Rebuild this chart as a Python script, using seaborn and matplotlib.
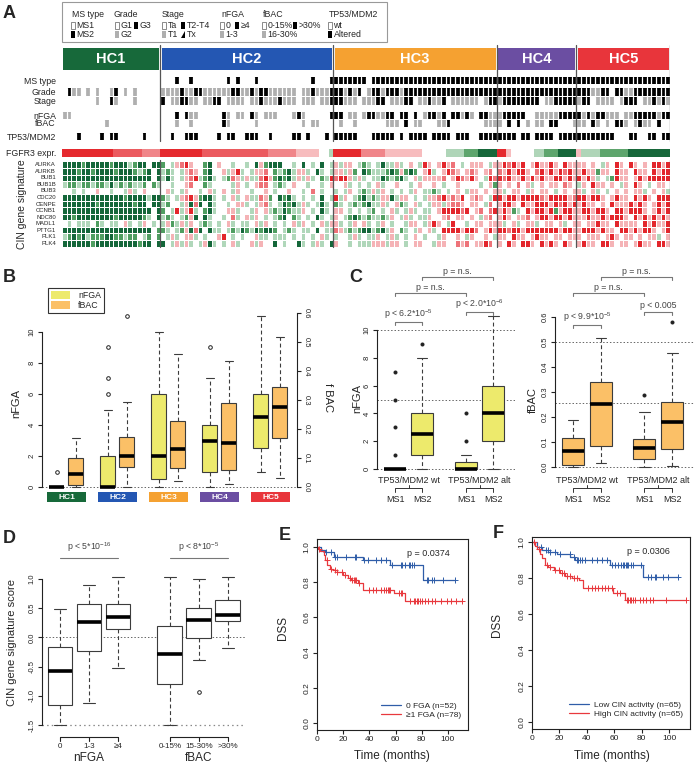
import numpy as np
import matplotlib
matplotlib.use("Agg")
import matplotlib.pyplot as plt
import matplotlib.transforms as mtransforms
from matplotlib.colors import ListedColormap
from matplotlib.patches import Rectangle, Patch, Polygon
from matplotlib.lines import Line2D
import seaborn as sns

sns.set_theme(style="ticks")
plt.rcParams["font.family"] = ["Liberation Sans", "DejaVu Sans"]
plt.rcParams.update({
    "axes.unicode_minus": False,
    "mathtext.fontset": "custom",
    "mathtext.rm": "Liberation Sans",
    "mathtext.it": "Liberation Sans:italic",
    "mathtext.bf": "Liberation Sans:bold",
    "mathtext.default": "regular",
    "axes.linewidth": 0.8,
    "axes.edgecolor": "#222222",
    "xtick.color": "#222222", "ytick.color": "#222222",
    "xtick.major.size": 3, "ytick.major.size": 3,
    "xtick.major.width": 0.8, "ytick.major.width": 0.8,
    "xtick.major.pad": 1.5, "ytick.major.pad": 1.5,
    "xtick.labelsize": 6, "ytick.labelsize": 6,
})

# =================== DATA ===================
# ---- Panel A ----
clusters = ["HC1", "HC2", "HC3", "HC4", "HC5"]
cluster_sizes = [21, 37, 35, 17, 20]
cluster_colors = ["#17693A", "#2457B3", "#F5A131", "#6B4EA2", "#E8353B"]

# clinical tracks: 0 = white, 1 = grey, 2 = black
ms_type = ("0000000000" "00000000000"
           "0002002000" "0000202000" "2000000000" "0020002"
           "2222222" "0" "2222222222" "2222222222" "2222222"
           "2222222222" "2222222"
           "2222222222" "2222222222")
grade = ("0211010100" "12010100000"
         "1111211221" "1111122112" "1221111110" "1121112"
         "2212120122" "1222122222" "2222222222" "22222"
         "2222222222" "2222222"
         "2221122022" "1122222222")
stage = ("0000000100" "21000100000"
         "2011221101" "1220111101" "1211121110" "1110112"
         "2211101112" "2011122011" "2112011111" "10122"
         "1222222220" "1122222"
         "1220111101" "2220112121")
nfga_cat = ("1100000000" "00000000000"
            "0002021100" "0002101102" "1011100012" "1000002"
            "2201101221" "1220220201" "2212022121" "02211"
            "1222220011" "1112222"
            "2121221110" "1122222122")
fbac_cat = ("0000000001" "00000000000"
            "0001001000" "0002100000" "1000000000" "1011000"
            "0100100000" "0111020110" "0011200000" "00111"
            "1020201011" "0220001"
            "1102101022" "1012110200")
tp53_mdm2 = ("0002000020" "22000002000"
             "0020022200" "0020220022" "2002000022" "0200020"
             "2222200022" "2220202222" "0222202220" "02222"
             "2222022022" "2202222"
             "2222222200" "0220022022")
# FGFR3 expression levels: R>r>m>p (red), . none, l<g<G (green)
fgfr3_expr = ("RRRRRRRRRRR" "rrrrrr" "mmmm"
              "RRRRRRRRR" "rrrrrrrrrrrrrr" "mmmmmm" "ppppp" ".." "l"
              "RRRRRR" "mmmmm" "pppppppp" "....." "llll" "ggg" "GGGG"
              "RR" "p" "....." "ll" "ggg" "GGGG"
              "p" "llll" "gggggg" "GGGGGGGGG")

cin_genes = ["AURKA", "AURKB", "BUB1", "BUB1B", "BUB3", "CDC20", "CENPE",
             "CCNB1", "NDC80", "MADL1", "PTTG1", "PLK1", "PLK4"]
cin_signature = [
    "GGGGgGGGGG" "gGGGlgGG.GG" "g.lprRp..g" "G.p..l..l." "GpgGGG..l." "G.l.G.l"
    "plpp.lgl.l" "Gllpl.p.lR" "p.pRpr.l.p" "pp.lp" "pRrRpR.pRp" "pRp.Rpp" "pp.p.lp.Rp" ".Rp.p.RRpR",
    "GGGgGGgGGG" "GgGGGglgG.G" "lgl.lprp.g" "G..plpRl.l" "ppr.glgGlp" "pl.Gl.l"
    "pplpg.Ggll" "lgGgpgGg.p" "Rl.pRrp.pr" "p.pr." "rpRpRRp.rR" "pRpRrRp" "pRppgpp.Rp" "p.Rpp.RpRR",
    "GGGGGGGGGG" "GGGGGGGGG.G" "lGl.lprRlg" "Gl.lgrplpl" "lrRpgGgGlp" "lpl.glR"
    "rRRplpl.ll" "GglgGl.plp" "pppr.pRrpR" "p.lRr" "RrRppRpRpR" "ppRRpRp" "RpRpl.lgRp" "p.pRpRRRRR",
    "lgglgglggl" "Glglgllg.gl" "..l..pr..g" "l....lp.l." "prr.lgl.p." ".l..l.p"
    "..pl.l.l.p" "l..p..l.p." ".p.l..p..." ".l.pg" "p.p.r.pl.p" ".pp.rp." "lp.Rpp.p.l" "p.Rp.l.pp.",
    "..l.l..p.." "l..lpl.p..." ".pl.lp..l." "pl.p.lp..l" "..p.l..p.." "l.r.l.."
    "l.lp.lglpl" "p.l.l.lp.l" "lgl.l.p.lp" "p.p.p" "pl.pp.lp.p" "p.l.p.p" "pl.pl.l.p." "p.ppl.p.pl",
    "GGGGGGGGGG" "GGGgGGGGlGG" "gl.lprRpgG" "Gl.l.pl.pl" "lrpg.GgGl." "l.l.G.l"
    "Rlp.lgGlgl" "ppGlpp.l.l" "pprRprpR.p" "rp.lR" "RpRRpRRRRr" "pRRRRpr" "RRpRRp.pRp" "p.RpRp.RRR",
    "GGGGGGGgGG" "GGGGGgGG.GG" "lg..lpGrG." "Gl..l.ppl." "lprl.lGgGl" "pl.lGl."
    "gl.lglgGll" "pl.pgl.pl." "lpplprrp.p" "p.lr." "pRRp.RppRR" "RpRrRpR" "pRpp.p.Rpp" "pRpRp.pRpR",
    "GGGGGGGGGG" "GGGGGGGGG.G" "g.lRlpRl.g" "Gl..ppl..l" "p.plglGgll" "p.l.Gl."
    "pp.l.l.lg." "l.pl.lpl.l" "l.pRRRRrR." "pr.rR" "pRpgl.RpRR" "pRgpRRp" "pRRpRRp.RR" "pRRRp.pRpR",
    "GGgGGGGGGG" "GgGGGGGgl.G" "lgl.lgpG.G" "l..l.rl.pl" "p.l.lgG.gl" ".l.Gl.l"
    "p.lgGglgll" "glp.lpl.ll" "p..pr.pp.p" ".lpr." "pRp.ppr.pR" "RpRRpRp" "ppRppRpRRR" "p.RpRpRpRp",
    ".l.lll.gl." "ll.pl.lp.l." "lpglplp.lg" "l.l.pl.ll." "plp.l.l.pl" "p.l.plp"
    "pl.lp.pl.l" "p.l..lpp.l" "pRp.lR..l." "pp.pp" "pl.pl.ppl." "pp.pl.p" "p.ppRpp.Rp" "ppp.RpRppR",
    "GGGGGGGGGG" "GGGGGGGGG.g" "gl.lgpGrG." "Gll.lglGgl" "GgGGg.lgl." "ll.G.ll"
    "rplglgGGlg" "Glp.gl.lp." "pl.RRRRpRR" "r.pRp" "RRrRRpRRRR" "RRRpRRp" "pRRRpRpp.R" "RpRpRRp.pR",
    "lgGgGlgggG" "Ggglgg.lg.g" ".lpl.ppl.l" "..pR.l.l.." "pll.lll.l." "l.l.pl."
    "l..lpl.llp" ".lpl.l.p.l" "..lp..p.lp" "..p.l" "pp.Rpp.pRp" "p.pp.pp" "p.ppp.pRp." "pp.p.ppl.p",
    "GGGGGGgGGG" "GGGGGGgGG.G" "G.lplpl.lp" "Gl.l.pl..p" "lp..G.l..G" "l.lpl.G"
    "p..l.lllpp" "plpp.l.pp." ".lpp..rpr." "ppRr." "p.Rp.RRp.R" "pRp.Rp." "pRpp.RRp.p" "p.pRpp.RRp",
]

# ---- Panel B (box statistics per cluster) ----
b_groups = ["HC1", "HC2", "HC3", "HC4", "HC5"]
b_nfga_q1 = [0, 0, 0.5, 1, 2.5]
b_nfga_med = [0, 0, 2, 3, 4.5]
b_nfga_q3 = [0, 2, 6, 4, 6]
b_nfga_lo = [0, 0, 0, 0, 1]
b_nfga_hi = [0, 5, 10, 7, 11]
b_nfga_out = [[1], [6, 7, 9], [], [9], []]
b_fbac_q1 = [0.007, 0.069, 0.066, 0.059, 0.169]
b_fbac_med = [0.045, 0.107, 0.131, 0.152, 0.276]
b_fbac_q3 = [0.10, 0.172, 0.228, 0.29, 0.345]
b_fbac_lo = [0.0, 0.0, 0.02, 0.01, 0.031]
b_fbac_hi = [0.17, 0.293, 0.459, 0.434, 0.517]
b_fbac_out = [[], [0.59], [], [], []]

# ---- Panel C ----
c_groups = ["MS1", "MS2", "MS1", "MS2"]
c_tp53 = ["TP53/MDM2 wt", "TP53/MDM2 alt"]
c_nfga_q1 = [0, 1, 0, 2]
c_nfga_med = [0, 2.5, 0, 4]
c_nfga_q3 = [0, 4, 0.5, 6]
c_nfga_lo = [0, 0, 0, 0]
c_nfga_hi = [0, 8, 1, 11]
c_nfga_out = [[1, 3, 5, 7], [9], [2, 4], []]
c_fbac_q1 = [0.01, 0.083, 0.033, 0.072]
c_fbac_med = [0.066, 0.254, 0.075, 0.182]
c_fbac_q3 = [0.115, 0.34, 0.112, 0.26]
c_fbac_lo = [0.0, 0.017, 0.002, 0.005]
c_fbac_hi = [0.187, 0.515, 0.22, 0.455]
c_fbac_out = [[], [], [0.29], [0.58]]

# ---- Panel D ----
d_labels = ["0", "1-3", "\u22654", "0-15%", "15-30%", ">30%"]
d_q1 = [-1.15, -0.24, 0.14, -0.80, -0.01, 0.28]
d_med = [-0.58, 0.26, 0.35, -0.29, 0.30, 0.39]
d_q3 = [-0.17, 0.58, 0.58, 0.19, 0.51, 0.64]
d_lo = [-1.5, -1.12, -0.53, -1.5, -0.39, -0.19]
d_hi = [0.48, 0.90, 1.03, 1.03, 1.00, 1.03]
d_out = [[], [], [], [], [-0.93], []]

# ---- Panel E (Kaplan-Meier) ----
e0_times = [0, 3, 6, 13, 35, 56, 81]
e0_surv = [1.0, 0.985, 0.97, 0.945, 0.925, 0.895, 0.81]
e0_end = 105
e0_cens = [7, 11, 14, 15, 22.5, 29, 30, 36, 39, 45, 49, 52.5, 57.5, 64, 65, 67.5,
           70, 71, 72.5, 74, 84, 85, 87.5, 89, 96, 105]
e1_times = [0, 0.5, 2.5, 5, 6.3, 8, 10, 12.5, 15, 20, 24, 26, 31, 35, 59, 67.5]
e1_surv = [1.0, 0.99, 0.977, 0.952, 0.924, 0.895, 0.876, 0.867, 0.857, 0.838,
           0.825, 0.81, 0.796, 0.758, 0.74, 0.695]
e1_end = 111
e1_cens = [1.2, 7.5, 11, 14, 15.5, 19, 21, 25, 27, 28, 29, 30, 32, 40, 42.5, 45, 49,
           51, 52.5, 54, 55, 56, 62.5, 64, 65, 71, 74, 75, 76, 77, 79, 80, 82.5, 85,
           87.5, 90, 95, 99, 102.5, 106, 111]
e_labels = ["0 FGA (n=52)", "\u22651 FGA (n=78)"]
e_p = "p = 0.0374"

# ---- Panel F ----
f0_times = [0, 4, 7, 12, 18, 28, 31.5, 57, 81]
f0_surv = [1.0, 0.973, 0.958, 0.945, 0.933, 0.918, 0.90, 0.873, 0.805]
f0_end = 106.5
f0_cens = [6.8, 9.9, 11.4, 13.3, 16.9, 20.6, 27.8, 30.3, 32.7, 33.9, 35.1, 36.3,
           38.7, 43.6, 47.2, 50.8, 54.5, 58.1, 60.5, 63, 64.9, 66.1, 67, 68.3, 69,
           70.2, 71.9, 73.8, 79.9, 84.7, 87.1, 89.6, 90.8, 95.6, 99.3, 106.5]
f1_times = [0, 2.4, 3.6, 6, 7.3, 9.7, 12, 16, 20.6, 24, 29, 34, 37.5, 59.3, 67.8]
f1_surv = [1.0, 0.978, 0.964, 0.936, 0.91, 0.873, 0.86, 0.845, 0.827, 0.813, 0.80,
           0.787, 0.745, 0.718, 0.676]
f1_end = 112.6
f1_cens = [1.2, 4.8, 10.9, 13.3, 16.9, 19.4, 21.8, 23.5, 25.4, 27.4, 30.3, 32.7,
           41.2, 43.6, 46, 48.4, 50.8, 53.3, 55.7, 58.1, 61.7, 64.2, 69, 70.2, 71.4,
           72.6, 73.8, 75.1, 78.7, 81.1, 83.5, 85.9, 88.4, 98.1, 112.6]
f_labels = ["Low CIN activity (n=65)", "High CIN activity (n=65)"]
f_p = "p = 0.0306"

# =================== STYLE ===================
W, H = 694, 765
YEL, ORA = "#EDEA6C", "#FBC067"
BLUE, RED = "#2F5DA8", "#E8383D"
EDGE = "#3c3c3c"

n_samples = sum(cluster_sizes)
for s in [ms_type, grade, stage, nfga_cat, fbac_cat, tp53_mdm2, fgfr3_expr] + cin_signature:
    assert len(s) == n_samples, (len(s), s[:20])

fig = plt.figure(figsize=(W / 100, H / 100), dpi=100)


def add_ax(x0, y0, x1, y1, **kw):
    return fig.add_axes([x0 / W, 1 - y1 / H, (x1 - x0) / W, (y1 - y0) / H], **kw)


ov = fig.add_axes([0, 0, 1, 1], zorder=20)
ov.set_xlim(0, W)
ov.set_ylim(H, 0)
ov.axis("off")
ov.patch.set_alpha(0)

for letter, (lx, ly) in zip("ABCDEF", [(3, 18), (3, 282), (349, 282), (3, 543), (279, 540), (493, 538)]):
    ov.text(lx, ly, letter, fontsize=13, fontweight="bold", ha="left", va="baseline")

# =================== PANEL A ===================
ov.add_patch(Rectangle((62, 2), 325, 40, fc="white", ec="#999999", lw=0.8))
leg_fs = 6.3
for txt, x in [("MS type", 72), ("Grade", 114), ("Stage", 162), ("nFGA", 221), ("fBAC", 263), ("TP53/MDM2", 329)]:
    ov.text(x, 14, txt, fontsize=leg_fs, ha="left", va="center")
legend_items = [
    (73, 25, "w", "MS1"), (117, 25, "w", "G1"), (136, 25, "k", "G3"),
    (164, 25, "w", "Ta"), (183, 25, "k", "T2-T4"), (222, 25, "w", "0"),
    (237, 25, "k", "\u22654"), (264, 25, "w", "0-15%"), (295, 25, "k", ">30%"),
    (330, 25, "w", "wt"),
    (73, 34, "k", "MS2"), (117, 34, "g", "G2"), (164, 34, "g", "T1"),
    (183, 34, "t", "Tx"), (222, 34, "g", "1-3"), (264, 34, "g", "16-30%"),
    (330, 34, "k", "Altered"),
]
for x, y, kind, txt in legend_items:
    if kind == "t":
        ov.add_patch(Polygon([(x - 1.5, y + 3.5), (x + 2, y + 3.5), (x + 2, y - 3.5)], closed=True, fc="black", ec="none"))
    else:
        fc = {"w": "white", "g": "#AFAFAF", "k": "black"}[kind]
        ec = "#777777" if kind == "w" else "none"
        ov.add_patch(Rectangle((x - 1.5, y - 3.5), 3.2, 7, fc=fc, ec=ec, lw=0.6))
    ov.text(x + 3.5, y, txt, fontsize=leg_fs, ha="left", va="center")

x0A, x1A = 62, 670
clin_cmap = ListedColormap(["white", "#AFAFAF", "black"])
track_rows = [("MS type", ms_type, 77, 84), ("Grade", grade, 88, 96), ("Stage", stage, 96.5, 104.5),
              ("nFGA", nfga_cat, 112, 119), ("fBAC", fbac_cat, 119.5, 126.5), ("TP53/MDM2", tp53_mdm2, 133, 140)]
for name, s, ya, yb in track_rows:
    ax = add_ax(x0A, ya, x1A, yb)
    arr = np.array([[int(c) for c in s]])
    sns.heatmap(arr, cmap=clin_cmap, vmin=-0.5, vmax=2.5, cbar=False, linewidths=0.0,
                xticklabels=False, yticklabels=False, ax=ax)
    # white separators between the sample columns
    for k in range(n_samples + 1):
        ax.axvline(k, color="white", lw=0.9)
    ov.text(56, (ya + yb) / 2 + 0.5, name, fontsize=6.3, ha="right", va="center")

fg_code = {"R": 4, "r": 3, "m": 2, "p": 1, ".": 0, "l": -1, "g": -2, "G": -3}
fg_cmap = ListedColormap(["#17673A", "#5EA56D", "#AFD5B8", "white", "#F7BCBE", "#F08589", "#EB5A5F", "#E5292E"])
axF3 = add_ax(x0A, 149, x1A, 157)
sns.heatmap(np.array([[fg_code[c] for c in fgfr3_expr]]), cmap=fg_cmap, vmin=-3.5, vmax=4.5,
            cbar=False, xticklabels=False, yticklabels=False, ax=axF3)
ov.text(56, 153, "FGFR3 expr.", fontsize=6.3, ha="right", va="center")

cin_code = {"G": -3, "g": -2, "l": -1, ".": 0, "p": 1, "r": 2, "R": 3}
cin_cmap = ListedColormap(["#14673A", "#4F9E61", "#B0D7BA", "white", "#F5B3B6", "#EE7379", "#E3262C"])
cin_mat = np.array([[cin_code[c] for c in s] for s in cin_signature])
axCIN = add_ax(x0A, 161.5, x1A, 246.5)
sns.heatmap(cin_mat, cmap=cin_cmap, vmin=-3.5, vmax=3.5, cbar=False, linewidths=0.6,
            linecolor="white", xticklabels=False, yticklabels=False, ax=axCIN)
row_h = (246.5 - 161.5) / len(cin_genes)
for i, g in enumerate(cin_genes):
    ov.text(56, 161.5 + (i + 0.5) * row_h, g, fontsize=4.3, ha="right", va="center")
ov.text(22, 204, "CIN gene signature", fontsize=7.5, rotation=90, ha="center", va="center")

trk = add_ax(x0A, 40, x1A, 250, zorder=10)
trk.set_xlim(0, n_samples)
trk.set_ylim(250, 40)
trk.axis("off")
trk.patch.set_alpha(0)
cum = np.concatenate([[0], np.cumsum(cluster_sizes)])
for i, (name, size, col) in enumerate(zip(clusters, cluster_sizes, cluster_colors)):
    trk.add_patch(Rectangle((cum[i] + 0.3, 48), size - 0.6, 22, fc=col, ec="none"))
    trk.text(cum[i] + size / 2, 59.5, name, color="white", fontsize=10.5, fontweight="bold",
             ha="center", va="center")
for b in cum:
    xb = -0.4 if b == 0 else b
    trk.plot([xb, xb], [45, 141], color="#555555", lw=0.9)
    trk.plot([xb, xb], [160, 247], color="#555555", lw=0.9)


# =================== helpers ===================
def stats_list(q1, med, q3, lo, hi, out):
    return [dict(q1=a, med=b, q3=c, whislo=d, whishi=e, fliers=list(f))
            for a, b, c, d, e, f in zip(q1, med, q3, lo, hi, out)]


def draw_boxes(ax, stats, positions, width, colors, filled=False):
    bp = ax.bxp(stats, positions=positions, widths=width, capwidths=width * 0.5,
                patch_artist=True, showfliers=True, manage_ticks=False,
                boxprops=dict(edgecolor=EDGE, linewidth=0.8),
                medianprops=dict(color="black", linewidth=2.6, solid_capstyle="butt"),
                whiskerprops=dict(color=EDGE, linewidth=0.8, linestyle=(0, (3.5, 2.5))),
                capprops=dict(color=EDGE, linewidth=0.8),
                flierprops=dict(marker="o", markersize=2.2 if filled else 2.6,
                                markerfacecolor="#222222" if filled else "none",
                                markeredgecolor="#222222", markeredgewidth=0.7, linestyle="none"))
    for p, c in zip(bp["boxes"], colors):
        p.set_facecolor(c)
    return bp


def bracket(ax, x1, x2, y, h, txt, dy):
    ax.plot([x1, x1, x2, x2], [y - h, y, y, y - h], color="#777777", lw=0.8, clip_on=False)
    ax.text((x1 + x2) / 2, y + dy, txt, fontsize=6.3, color="#444444", ha="center", va="bottom", clip_on=False)


def r_left_axis(ax, lo, hi, ticks, labels, fs=5.5):
    for sp in ["top", "right", "bottom"]:
        ax.spines[sp].set_visible(False)
    ax.spines["left"].set_bounds(lo, hi)
    ax.set_yticks(ticks)
    ax.set_yticklabels(labels, fontsize=fs, rotation=90, va="center")
    ax.set_xticks([])


def blend(ax):
    return mtransforms.blended_transform_factory(ax.transData, ov.transData)


# =================== PANEL B ===================
axB = add_ax(42, 296, 297, 504)
sB = 15.5
ylimB = (-(504 - 487) / sB, (487 - 296) / sB)
axB.set_ylim(*ylimB)
axB.set_xlim(-0.48, 4.52)
axB2 = axB.twinx()
scaleF = sB / 290.0
axB2.set_ylim(ylimB[0] * scaleF, ylimB[1] * scaleF)
axB2.set_xlim(-0.48, 4.52)
pos = np.arange(len(b_groups))
axB.axhline(0, color="#666666", lw=0.7, ls=(0, (1.5, 2)))
draw_boxes(axB, stats_list(b_nfga_q1, b_nfga_med, b_nfga_q3, b_nfga_lo, b_nfga_hi, b_nfga_out),
           pos - 0.186, 0.294, [YEL] * 5)
draw_boxes(axB2, stats_list(b_fbac_q1, b_fbac_med, b_fbac_q3, b_fbac_lo, b_fbac_hi, b_fbac_out),
           pos + 0.186, 0.294, [ORA] * 5)
r_left_axis(axB, 0, 10, [0, 2, 4, 6, 8, 10], ["0", "2", "4", "6", "8", "10"])
for sp in ["top", "left", "bottom"]:
    axB2.spines[sp].set_visible(False)
axB2.spines["right"].set_visible(True)
axB2.spines["right"].set_bounds(0, 0.6)
axB2.set_yticks([0, 0.1, 0.2, 0.3, 0.4, 0.5, 0.6])
axB2.set_yticklabels(["0.0", "0.1", "0.2", "0.3", "0.4", "0.5", "0.6"], fontsize=5.5, rotation=-90, va="center")
axB2.tick_params(axis="y", right=True)
bt = blend(axB)
for i, (g, col) in enumerate(zip(b_groups, cluster_colors)):
    axB.add_patch(Rectangle((i - 0.39, 492), 0.78, 10, fc=col, ec="none", transform=bt, clip_on=False))
    axB.text(i, 497.3, g, transform=bt, color="white", fontsize=6, fontweight="bold",
             ha="center", va="center", clip_on=False)
leg = axB2.legend(handles=[Patch(fc=YEL, ec="none", label="nFGA"), Patch(fc=ORA, ec="none", label="fBAC")],
                  loc="upper left", bbox_to_anchor=(48 / W, 1 - 288 / H), bbox_transform=fig.transFigure,
                  fontsize=6.3, frameon=True, fancybox=False, edgecolor="#333333", framealpha=1,
                  borderpad=0.35, handlelength=2.2, handleheight=1.0, handletextpad=0.9,
                  labelspacing=0.15, borderaxespad=0)
leg.get_frame().set_linewidth(0.8)
ov.text(16, 403, "nFGA", fontsize=8, rotation=90, ha="center", va="center")
ov.text(328, 398, "f BAC", fontsize=8, rotation=-90, ha="center", va="center")

# =================== PANEL C ===================
sCL = 13.9
axCL = add_ax(377, 265, 515, 475)
axCL.set_ylim(-(475 - 469) / sCL, (469 - 265) / sCL)
axCL.set_xlim(0.333, 5.44)
posC = np.array([1, 2, 3.63, 4.63])
for yv in [0, 5, 10]:
    axCL.axhline(yv, color="#666666", lw=0.7, ls=(0, (1.5, 2)))
draw_boxes(axCL, stats_list(c_nfga_q1, c_nfga_med, c_nfga_q3, c_nfga_lo, c_nfga_hi, c_nfga_out),
           posC, 0.8, [YEL] * 4, filled=True)
r_left_axis(axCL, 0, 10, [0, 2, 4, 6, 8, 10], ["0", "2", "4", "6", "8", "10"])
bracket(axCL, posC[0], posC[1], 10.58, 0.22, r"p < 6.2*10$^{-5}$", 0.1)
bracket(axCL, posC[0], posC[2], 12.66, 0.22, "p = n.s.", 0.1)
bracket(axCL, posC[1], posC[3], 13.8, 0.22, "p = n.s.", 0.1)
bracket(axCL, posC[2], posC[3], 11.3, 0.22, r"p < 2.0*10$^{-6}$", 0.1)
ov.text(357, 398, "nFGA", fontsize=8, rotation=90, ha="center", va="center")

sCR = 250.0
axCR = add_ax(555, 265, 694, 475)
axCR.set_ylim(-(475 - 467) / sCR, (467 - 265) / sCR)
axCR.set_xlim(0.357, 5.32)
posC2 = np.array([1, 2, 3.54, 4.54])
for yv in [0, 0.255, 0.5]:
    axCR.axhline(yv, color="#666666", lw=0.7, ls=(0, (1.5, 2)))
draw_boxes(axCR, stats_list(c_fbac_q1, c_fbac_med, c_fbac_q3, c_fbac_lo, c_fbac_hi, c_fbac_out),
           posC2, 0.78, [ORA] * 4, filled=True)
r_left_axis(axCR, 0, 0.6, [0, 0.1, 0.2, 0.3, 0.4, 0.5, 0.6],
            ["0.0", "0.1", "0.2", "0.3", "0.4", "0.5", "0.6"])
bracket(axCR, posC2[0], posC2[1], 0.568, 0.012, r"p < 9.9*10$^{-5}$", 0.006)
bracket(axCR, posC2[0], posC2[2], 0.696, 0.012, "p = n.s.", 0.006)
bracket(axCR, posC2[1], posC2[3], 0.76, 0.012, "p = n.s.", 0.006)
bracket(axCR, posC2[2], posC2[3], 0.62, 0.012, "p < 0.005", 0.006)
ov.text(533, 400, "fBAC", fontsize=8, rotation=90, ha="center", va="center")

for ax, p in [(axCL, posC), (axCR, posC2)]:
    t = blend(ax)
    for k, lab in enumerate(c_tp53):
        a, b = p[2 * k], p[2 * k + 1]
        ax.text((a + b) / 2, 480, lab, transform=t, fontsize=6.5, ha="center", va="center", clip_on=False)
        ax.plot([a, a, b, b], [492, 488, 488, 492], transform=t, color="#333333", lw=0.7, clip_on=False)
        ax.plot([(a + b) / 2] * 2, [488, 485], transform=t, color="#333333", lw=0.7, clip_on=False)
    for xx, lab in zip(p, c_groups):
        ax.text(xx, 499, lab, transform=t, fontsize=6.5, ha="center", va="center", clip_on=False)

# =================== PANEL D ===================
sD = 58.4
axD = add_ax(42, 545, 245, 740)
axD.set_ylim(-(740 - 637.4) / sD, (637.4 - 545) / sD)
axD.set_xlim(0.379, 7.38)
posD = np.array([1, 2, 3, 4.79, 5.79, 6.79])
axD.axhline(0, color="#666666", lw=0.7, ls=(0, (1.5, 2)))
axD.axhline(-1.5, color="#888888", lw=0.9, ls=(0, (1.2, 2.5)))
draw_boxes(axD, stats_list(d_q1, d_med, d_q3, d_lo, d_hi, d_out), posD, 0.86, ["white"] * 6)
r_left_axis(axD, -1.5, 1.0, [-1.5, -1.0, -0.5, 0, 0.5, 1.0], ["-1.5", "-1.0", "-0.5", "0.0", "0.5", "1.0"])
bracket(axD, posD[0], posD[2], 1.36, 0.0, r"p < 5*10$^{-16}$", 0.06)
bracket(axD, posD[3], posD[5], 1.36, 0.0, r"p < 8*10$^{-5}$", 0.06)
tD = blend(axD)
for grp, name in [((0, 3), "nFGA"), ((3, 6), "fBAC")]:
    a, b = posD[grp[0]], posD[grp[1] - 1]
    axD.plot([a, b], [737, 737], transform=tD, color="#222222", lw=0.8, clip_on=False)
    axD.text((a + b) / 2, 758, name, transform=tD, fontsize=8.5, ha="center", va="center", clip_on=False)
for xx, lab in zip(posD, d_labels):
    axD.plot([xx, xx], [737, 741], transform=tD, color="#222222", lw=0.8, clip_on=False)
    axD.text(xx, 746, lab, transform=tD, fontsize=5.8, ha="center", va="center", clip_on=False)
ov.text(12, 643, "CIN gene signature score", fontsize=8, rotation=90, ha="center", va="center")


# =================== PANELS E, F ===================
def km(ax, times, surv, end, cens, color):
    t = list(times) + [end]
    s = list(surv) + [surv[-1]]
    sns.lineplot(x=t, y=s, drawstyle="steps-post", color=color, lw=0.9, ax=ax,
                 estimator=None, sort=False, legend=False)
    idx = np.searchsorted(np.array(times), np.array(cens), side="right") - 1
    ax.plot(cens, np.array(surv)[idx], linestyle="none", marker="+", color=color, ms=4.5, mew=0.7)


def km_axes(ax, labels, ptxt, py):
    ax.set_xticks([0, 20, 40, 60, 80, 100])
    ax.set_xticklabels(["0", "20", "40", "60", "80", "100"], fontsize=6)
    ax.set_yticks([0, 0.2, 0.4, 0.6, 0.8, 1.0])
    ax.set_yticklabels(["0.0", "0.2", "0.4", "0.6", "0.8", "1.0"], fontsize=6, rotation=90, va="center")
    for sp in ax.spines.values():
        sp.set_visible(True)
        sp.set_linewidth(0.8)
    ax.set_xlabel("")
    ax.set_ylabel("")
    ax.text(69, py, ptxt, fontsize=6.5, ha="left", va="center")
    ax.legend(handles=[Line2D([], [], color=BLUE, lw=0.9), Line2D([], [], color=RED, lw=0.9)],
              labels=labels, loc="lower right", bbox_to_anchor=(0.99, 0.03), frameon=False,
              fontsize=6, handlelength=2.4, handletextpad=0.6, labelspacing=0.15, borderaxespad=0.2)


axE = add_ax(317, 539, 468, 730)
km(axE, e0_times, e0_surv, e0_end, e0_cens, BLUE)
km(axE, e1_times, e1_surv, e1_end, e1_cens, RED)
axE.set_xlim(0, 115.3)
axE.set_ylim(-0.04, 1.045)
km_axes(axE, e_labels, e_p, 0.96)
ov.text(283, 628, "DSS", fontsize=8.5, rotation=90, ha="center", va="center")
ov.text(392, 756, "Time (months)", fontsize=8.5, ha="center", va="center")

axFk = add_ax(532, 537, 690, 729)
km(axFk, f0_times, f0_surv, f0_end, f0_cens, BLUE)
km(axFk, f1_times, f1_surv, f1_end, f1_cens, RED)
axFk.set_xlim(0, 115.3)
axFk.set_ylim(-0.039, 1.028)
km_axes(axFk, f_labels, f_p, 0.95)
ov.text(497, 625, "DSS", fontsize=8.5, rotation=90, ha="center", va="center")
ov.text(612, 756, "Time (months)", fontsize=8.5, ha="center", va="center")

fig.savefig("out.png", dpi=100)
